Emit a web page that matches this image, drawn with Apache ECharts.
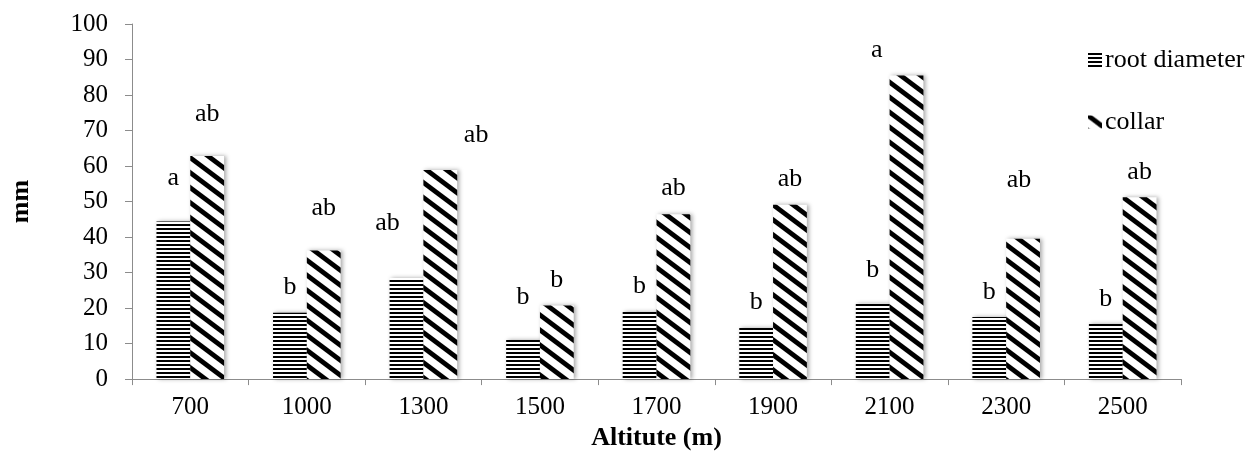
<!DOCTYPE html>
<html>
<head>
<meta charset="utf-8">
<script src="https://cdn.jsdelivr.net/npm/echarts@6/dist/echarts.min.js"></script>
<style>
    html, body { margin: 0; padding: 0; background: #fff; }
    #main { width: 1247px; height: 456px; }
</style>
</head>
<body>
<div id="main"></div>
<script>
// altitude classes (m)
var altitudes = ['700', '1000', '1300', '1500', '1700', '1900', '2100', '2300', '2500'];
// mean values (mm)
var rootDiameter = [44.4, 18.7, 28.5, 11.0, 18.9, 14.4, 21.2, 17.5, 15.5];
var collar = [62.8, 36.2, 58.9, 20.7, 46.4, 49.1, 85.5, 39.5, 51.2];
// significance letters and the height (mm) where each one sits
var rootLetters = ['a', 'b', 'ab', 'b', 'b', 'b', 'b', 'b', 'b'];
var rootLetterY = [56.6, 25.9, 44.0, 23.1, 26.1, 21.6, 30.7, 24.6, 22.5];
var collarLetters = ['ab', 'ab', 'ab', 'b', 'ab', 'ab', 'a', 'ab', 'ab'];
var collarLetterY = [74.5, 48.1, 68.7, 27.9, 53.7, 56.3, 92.7, 55.9, 58.4];
var yTicks = [0, 10, 20, 30, 40, 50, 60, 70, 80, 90, 100];

var FONT = '"Liberation Serif", "Times New Roman", serif';

// sideways nudges of a few letters, in bar widths
var rootNudge = {2: -0.56};
var collarNudge = {2: 1.06, 6: -0.88, 7: -0.12};

function hStripes() {
    var c = document.createElement('canvas');
    c.width = 4; c.height = 4;
    var g = c.getContext('2d');
    g.fillStyle = '#fff'; g.fillRect(0, 0, 4, 4);
    g.fillStyle = '#000'; g.fillRect(0, 0, 4, 2);
    return c;
}
function dStripes() {
    var c = document.createElement('canvas');
    c.width = 20; c.height = 15;
    var g = c.getContext('2d');
    g.fillStyle = '#fff'; g.fillRect(0, 0, 20, 15);
    g.strokeStyle = '#000'; g.lineWidth = 4.8;
    for (var k = -1; k <= 1; k++) {
        g.beginPath();
        g.moveTo(-5, -3.75 + 15 * k);
        g.lineTo(25, 18.75 + 15 * k);
        g.stroke();
    }
    return c;
}

var rootFill = {image: hStripes(), repeat: 'repeat'};
var collarFill = {image: dStripes(), repeat: 'repeat'};

var letterSeries = function (letters, ys, side, nudge) {
    return {
        type: 'custom',
        silent: true,
        z: 5,
        data: ys.map(function (v, i) { return [i, v]; }),
        renderItem: function (params, api) {
            var i = params.dataIndex;
            var p = api.coord([api.value(0), api.value(1)]);
            var barW = api.size([1, 0])[0] * 0.29;
            var dx = side * barW / 2 + (nudge[i] || 0) * barW;
            return {
                type: 'text',
                x: p[0] + dx,
                y: p[1],
                style: {
                    text: letters[i],
                    font: '26px ' + FONT,
                    fill: '#000',
                    align: 'center',
                    verticalAlign: 'middle'
                }
            };
        }
    };
};

var axisGray = '#8c8c8c';
var chart = echarts.init(document.getElementById('main'));
var option = {
    animation: false,
    textStyle: {fontFamily: FONT, color: '#000'},
    grid: {left: 119, right: 66, top: 24, bottom: 64},
    legend: [
        {
            data: ['root diameter'], left: 1083, top: 42,
            itemWidth: 14, itemHeight: 14, itemGap: 0, icon: 'rect',
            textStyle: {fontFamily: FONT, fontSize: 26, color: '#000', padding: [0, 0, 0, -2]}
        },
        {
            data: ['collar'], left: 1083, top: 104,
            itemWidth: 14, itemHeight: 13, itemGap: 0, icon: 'rect',
            textStyle: {fontFamily: FONT, fontSize: 26, color: '#000', padding: [0, 0, 0, -2]}
        }
    ],
    xAxis: {
        type: 'category',
        data: altitudes,
        name: 'Altitute (m)',
        nameLocation: 'middle',
        nameGap: 40,
        nameTextStyle: {fontFamily: FONT, fontSize: 26, fontWeight: 'bold', color: '#000'},
        axisLine: {lineStyle: {color: axisGray, width: 1}},
        axisTick: {show: true, length: 6, lineStyle: {color: axisGray}},
        axisLabel: {fontFamily: FONT, fontSize: 25, color: '#000', margin: 16}
    },
    yAxis: {
        type: 'value',
        min: yTicks[0],
        max: yTicks[yTicks.length - 1],
        interval: 10,
        name: 'mm',
        nameLocation: 'middle',
        nameGap: 98,
        nameRotate: 90,
        nameTextStyle: {fontFamily: FONT, fontSize: 26, fontWeight: 'bold', color: '#000'},
        axisLine: {show: true, lineStyle: {color: axisGray, width: 1}},
        axisTick: {show: true, length: 7, lineStyle: {color: axisGray}},
        axisLabel: {fontFamily: FONT, fontSize: 25, color: '#000', margin: 24},
        splitLine: {show: false}
    },
    series: [
        {
            name: 'root diameter',
            type: 'bar',
            data: rootDiameter,
            barGap: '0%',
            barCategoryGap: '42%',
            itemStyle: {
                color: rootFill,
                shadowColor: 'rgba(0,0,0,0.35)', shadowBlur: 4, shadowOffsetX: 2
            }
        },
        {
            name: 'collar',
            type: 'bar',
            data: collar,
            barGap: '0%',
            barCategoryGap: '42%',
            itemStyle: {
                color: collarFill,
                shadowColor: 'rgba(0,0,0,0.35)', shadowBlur: 4, shadowOffsetX: 2
            }
        },
        letterSeries(rootLetters, rootLetterY, -1, rootNudge),
        letterSeries(collarLetters, collarLetterY, 1, collarNudge)
    ]
};
chart.setOption(option);
</script>
</body>
</html>
